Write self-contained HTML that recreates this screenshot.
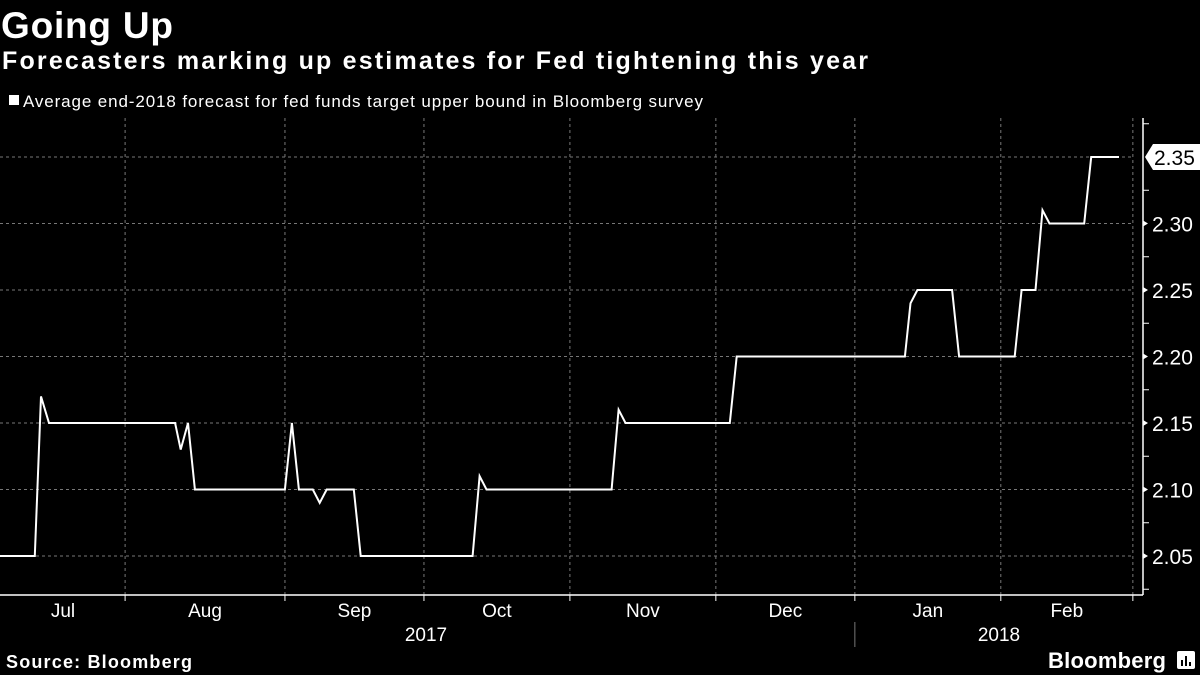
<!DOCTYPE html>
<html><head><meta charset="utf-8"><style>
html,body{margin:0;padding:0;background:#000;}
svg{display:block;font-family:"Liberation Sans",sans-serif;}
</style></head><body>
<svg id="chart" width="1200" height="675" viewBox="0 0 1200 675">
<rect width="1200" height="675" fill="#000"/>
<text x="1" y="38" fill="#fff" font-size="37" font-weight="bold" textLength="172">Going Up</text>
<text x="2" y="69" fill="#fff" font-size="25" font-weight="bold" textLength="866">Forecasters marking up estimates for Fed tightening this year</text>
<g>
<rect x="9" y="95" width="10" height="10" fill="#fff"/>
<text x="23" y="107" fill="#fff" font-size="17" textLength="680">Average end-2018 forecast for fed funds target upper bound in Bloomberg survey</text>
</g>
<g id="grid"></g>
<g id="axes"></g>
<path id="line" fill="none" stroke="#fff" stroke-width="2" stroke-linejoin="miter"/>
<g id="lastlabel"></g>
<text x="6" y="668" fill="#fff" font-size="18" font-weight="bold" textLength="186">Source: Bloomberg</text>
<text x="1048" y="668" fill="#fff" font-size="22" font-weight="bold" textLength="118">Bloomberg</text>
<g>
<rect x="1177" y="651" width="18" height="18" rx="2" fill="#fff"/>
<rect x="1181" y="660" width="2" height="6" fill="#000"/><rect x="1185" y="656" width="2" height="10" fill="#000"/><rect x="1189" y="662" width="2" height="4" fill="#000"/>
</g>
</svg>
<script>
const days = [0,5,5.9,7.05,25.2,26,27.05,28.05,41,42,43,45,46,47,50.9,51.9,68,69,70,88,89,90,105,106,130.2,131,132,137,138,146,147,149,150,151,156,157,161];
const values = [2.05,2.05,2.17,2.15,2.15,2.13,2.15,2.10,2.10,2.15,2.10,2.10,2.09,2.10,2.10,2.05,2.05,2.11,2.10,2.10,2.16,2.15,2.15,2.20,2.20,2.24,2.25,2.25,2.20,2.20,2.25,2.25,2.31,2.30,2.30,2.35,2.35];
const monthBounds = [18,41,61,82,103,123,144,163];
const monthLabels = ["Jul","Aug","Sep","Oct","Nov","Dec","Jan","Feb"];
const yTicks = [2.05,2.10,2.15,2.20,2.25,2.30];
const yMinor = [2.025,2.075,2.125,2.175,2.225,2.275,2.325,2.375];
const yearLabels = ["2017","2018"];
const lastValue = values[values.length-1];

const NS="http://www.w3.org/2000/svg";
const X0=0, PXD=6.95;
function xS(d){return X0+d*PXD;}
function yS(v){return 556-(v-2.05)/0.05*66.5;}
const PL=0, PR=1143, PT=118, PB=595;
function mk(tag,attrs,parent){const e=document.createElementNS(NS,tag);for(const k in attrs)e.setAttribute(k,attrs[k]);parent.appendChild(e);return e;}
const grid=document.getElementById('grid'), axes=document.getElementById('axes');

yTicks.concat([2.35]).forEach(v=>{
  const l=mk('line',{x1:PL,x2:1134,y1:yS(v),y2:yS(v),stroke:'#777','stroke-dasharray':'3,3','stroke-width':1},grid);
  
  
});
monthBounds.forEach(d=>{
  const l=mk('line',{x1:xS(d),x2:xS(d),y1:PT,y2:PB,stroke:'#777','stroke-dasharray':'3,3','stroke-width':1},grid);
  
  
  const t=mk('line',{x1:xS(d),x2:xS(d),y1:PB,y2:PB+6,stroke:'#fff','stroke-width':1},axes);
  
  
});
let bx=mk('line',{x1:0,x2:PR,y1:PB,y2:PB,stroke:'#fff','stroke-width':1.5},axes);


let by=mk('line',{x1:PR,x2:PR,y1:PT,y2:PB,stroke:'#fff','stroke-width':1.5},axes);



monthLabels.forEach((m,i)=>{
  const a=i===0?0:monthBounds[i-1], b=monthBounds[i];
  let cx=(xS(a)+xS(b))/2; if(i===0)cx=63;
  const t=mk('text',{x:cx,y:617,fill:'#fff','font-size':19,'text-anchor':'middle'},axes);
  t.textContent=m;
  
  
});
[[426,yearLabels[0]],[999,yearLabels[1]]].forEach(p=>{
  const t=mk('text',{x:p[0],y:641,fill:'#fff','font-size':19,'text-anchor':'middle'},axes);
  t.textContent=p[1];
  
  
});
let dv=mk('line',{x1:xS(monthBounds[5]),x2:xS(monthBounds[5]),y1:622,y2:647,stroke:'#777','stroke-width':1},axes);



yMinor.forEach(v=>{
  const t=mk('line',{x1:PR,x2:PR+6,y1:yS(v),y2:yS(v),stroke:'#fff','stroke-width':1},axes);
  
  
});
yTicks.forEach(v=>{
  const p=mk('path',{d:`M${PR} ${yS(v)-3}L${PR+5} ${yS(v)}L${PR} ${yS(v)+3}Z`,fill:'#fff'},axes);
  
  
  const t=mk('text',{x:1152,y:yS(v)+8,fill:'#fff','font-size':21},axes);
  t.textContent=v.toFixed(2);
  
  
});

document.getElementById('line').setAttribute('d',days.map((d,i)=>(i?'L':'M')+xS(d).toFixed(1)+' '+yS(values[i]).toFixed(1)).join(''));

const ll=document.getElementById('lastlabel'), ly=yS(lastValue);
mk('path',{d:`M1145 ${ly}L1153 ${ly-13}H1200V${ly+13}H1153Z`,fill:'#fff'},ll);
const lt=mk('text',{x:1154,y:ly+8,fill:'#000','font-size':21},ll);
lt.textContent=lastValue.toFixed(2);


</script>
</body></html>
